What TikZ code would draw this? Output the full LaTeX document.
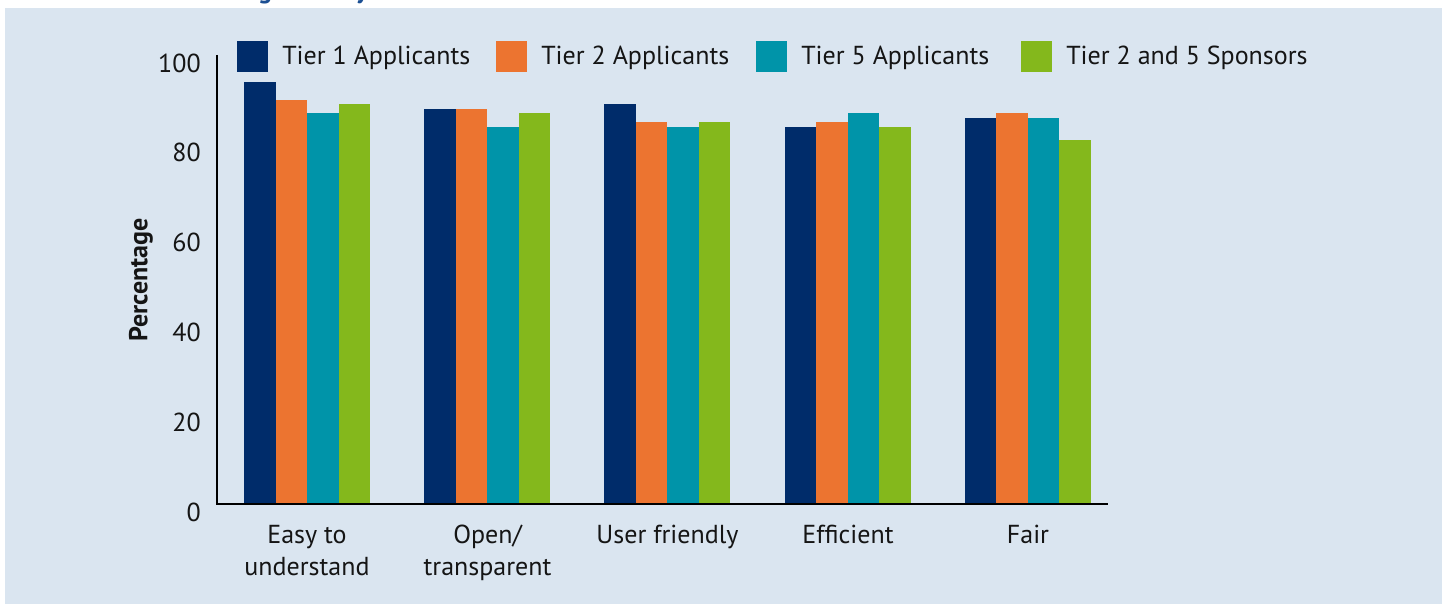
\documentclass[tikz,border=0pt]{standalone}
\usepackage{fontspec}
\setmainfont{PT Sans}
\definecolor{bgblue}{HTML}{DAE5F0}
\definecolor{toneA}{HTML}{002C6A}
\definecolor{toneB}{HTML}{EC7430}
\definecolor{toneC}{HTML}{0094A9}
\definecolor{toneD}{HTML}{84B81C}
\definecolor{titleblue}{HTML}{1B4F93}
\definecolor{ink}{HTML}{151515}
\begin{document}
\begin{tikzpicture}[x=0.75pt,y=-0.75pt,
  lbl/.style={font=\fontsize{19.5}{24}\selectfont, inner sep=0pt, text=ink},
  catlbl/.style={lbl, align=center, anchor=north},
  ticklbl/.style={lbl, anchor=east},
  axisline/.style={draw=black, line width=1.1pt},
  keybox/.style={minimum width=23.25pt, minimum height=23.25pt, inner sep=0pt, anchor=north west}]
\useasboundingbox (0,0) rectangle (1450,605);
\fill[white] (0,0) rectangle (1450,605);
\fill[bgblue] (5,8) rectangle (1442,604);
% clipped fragment of title above the panel
\begin{scope}
\clip (0,0) rectangle (1450,7);
\node[font=\bfseries\fontsize{19.5}{24}\selectfont, text=titleblue, inner sep=0pt, anchor=base] (tg) at (265,-1) {g};
\node[font=\bfseries\fontsize{19.5}{24}\selectfont, text=titleblue, inner sep=0pt, anchor=base] (ty) at (362,-1) {y};
\end{scope}
% bars
\foreach \g/\a/\b/\c/\d in {0/94/90/87/89, 1/88/88/84/87, 2/89/85/84/85, 3/84/85/87/84, 4/86/87/86/81}{
  \foreach \v/\col [count=\j from 0] in {\a/toneA,\b/toneB,\c/toneC,\d/toneD}{
    \fill[\col] ({244+180.2*\g+31.5*\j},504) rectangle ++(31.5,{-4.49*\v});
  }
}
% axes
\coordinate (ytop) at (217,55);
\coordinate (origin) at (217,504);
\coordinate (xend) at (1108,504);
\draw[axisline] (ytop) -- (origin) -- (xend);
% y tick labels
\foreach \v in {0,20,40,60,80,100}{
  \node[ticklbl] (yl\v) at (201,{504-4.49*\v+8}) {\v};
}
% axis title
\node[font=\bfseries\fontsize{19.5}{24}\selectfont, text=ink, inner sep=0pt, rotate=90] (ytitle) at (141,280) {Percentage};
% category labels
\node[catlbl] (c1) at (307,525) {\rule{0pt}{14pt}Easy to\\understand};
\node[catlbl] (c2) at (487.5,525) {\rule{0pt}{14pt}Open/\\transparent};
\node[catlbl] (c3) at (667.5,525) {\rule{0pt}{14pt}User friendly};
\node[catlbl] (c4) at (848,525) {\rule{0pt}{14pt}Efficient};
\node[catlbl] (c5) at (1028,525) {\rule{0pt}{14pt}Fair};
% legend
\node[keybox, fill=toneA] (k1) at (237,41) {};
\node[lbl, anchor=base west] (t1) at (282,65) {Tier 1 Applicants};
\node[keybox, fill=toneB] (k2) at (496,41) {};
\node[lbl, anchor=base west] (t2) at (541,65) {Tier 2 Applicants};
\node[keybox, fill=toneC] (k3) at (756,41) {};
\node[lbl, anchor=base west] (t3) at (801,65) {Tier 5 Applicants};
\node[keybox, fill=toneD] (k4) at (1021,41) {};
\node[lbl, anchor=base west] (t4) at (1066,65) {Tier 2 and 5 Sponsors};
\end{tikzpicture}
\end{document}
